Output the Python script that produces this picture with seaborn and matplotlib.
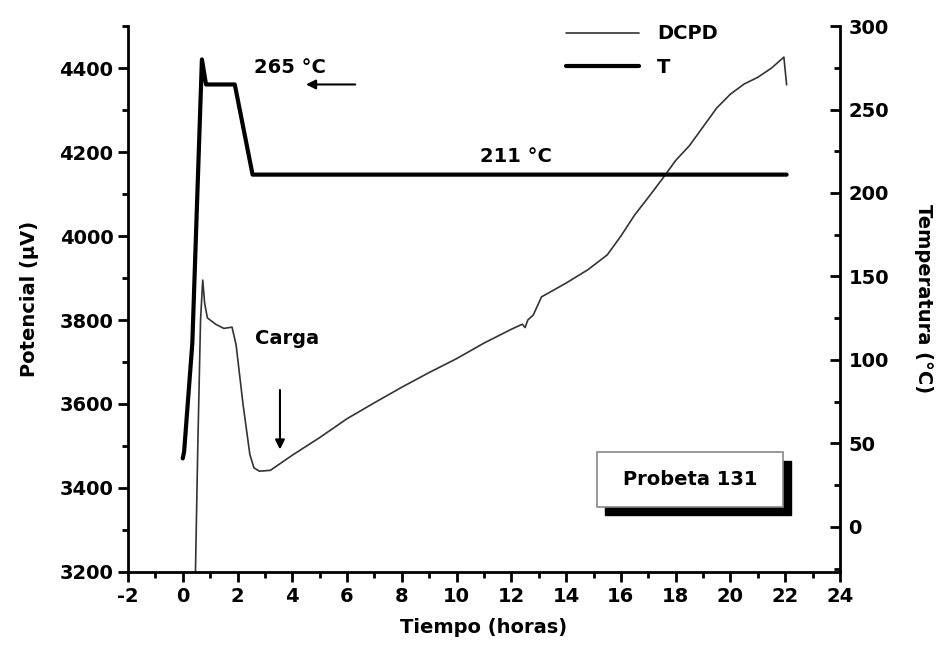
import matplotlib
matplotlib.use("Agg")
import matplotlib.pyplot as plt
from matplotlib.patches import Rectangle
from matplotlib.ticker import MultipleLocator
import pandas as pd
import seaborn as sns

# DCPD potential (µV) vs time (h)
dcpd_t = [0.45, 0.55, 0.65, 0.73, 0.8, 0.9, 1.2, 1.5, 1.8, 1.95, 2.2, 2.45, 2.6, 2.8, 3.2,
          3.6, 4.0, 5.0, 6.0, 7.0, 8.0, 9.0, 10.0, 11.0, 12.0, 12.4, 12.5, 12.6, 12.8, 13.1,
          14.0, 14.8, 15.5, 16.0, 16.5, 17.0, 17.5, 18.0, 18.5, 19.0, 19.5, 20.0, 20.5, 21.0,
          21.5, 21.95, 22.05]
dcpd_v = [3150, 3500, 3800, 3895, 3840, 3805, 3790, 3780, 3783, 3740, 3600, 3480, 3448, 3440,
          3442, 3460, 3478, 3520, 3565, 3603, 3640, 3675, 3708, 3745, 3778, 3790, 3782, 3800,
          3812, 3855, 3888, 3920, 3955, 4000, 4050, 4092, 4135, 4180, 4215, 4260, 4305, 4338,
          4362, 4378, 4400, 4426, 4360]

# temperature (°C) vs time (h)
temp_t = [0.0, 0.05, 0.35, 0.5, 0.7, 0.85, 1.9, 2.55, 5.0, 10.0, 15.0, 20.0, 22.05]
temp_c = [41, 45, 110, 183, 280, 265, 265, 211, 211, 211, 211, 211, 211]

sns.set_style("ticks")
plt.rcParams["font.family"] = ["DejaVu Sans"]
plt.rcParams["font.weight"] = "bold"
plt.rcParams["font.size"] = 14
plt.rcParams["axes.unicode_minus"] = False
for k in ("text.color", "axes.labelcolor", "xtick.color", "ytick.color", "axes.edgecolor"):
    plt.rcParams[k] = "black"

fig = plt.figure(figsize=(9.43, 6.51), dpi=100)
ax = fig.add_axes([0.1357, 0.1214, 0.7551, 0.8386])
ax2 = ax.twinx()

df_dcpd = pd.DataFrame({"t": dcpd_t, "v": dcpd_v})
df_temp = pd.DataFrame({"t": temp_t, "c": temp_c})
sns.lineplot(data=df_dcpd, x="t", y="v", ax=ax, color="#333333", lw=1.2, sort=False, label="DCPD", legend=False)
sns.lineplot(data=df_temp, x="t", y="c", ax=ax2, color="black", lw=3, sort=False, label="T", legend=False)

ax.set_xlim(-2, 24)
ax.set_ylim(3200, 4500)
ax2.set_ylim(-27, 300)
ax.xaxis.set_major_locator(MultipleLocator(2))
ax.xaxis.set_minor_locator(MultipleLocator(1))
ax.yaxis.set_major_locator(MultipleLocator(200))
ax.yaxis.set_minor_locator(MultipleLocator(100))
ax2.yaxis.set_major_locator(MultipleLocator(50))
ax2.yaxis.set_minor_locator(MultipleLocator(25))

for a in (ax, ax2):
    a.spines["top"].set_visible(False)
    for s in a.spines.values():
        s.set_linewidth(2)
        s.set_color("black")
ax.spines["right"].set_visible(False)
ax2.spines["left"].set_visible(False)
ax2.spines["bottom"].set_visible(False)

ax.tick_params(which="major", direction="out", length=7, width=2, labelsize=14)
ax.tick_params(which="minor", direction="out", length=4, width=2)
ax2.tick_params(which="major", direction="in", length=7, width=2, labelsize=14, pad=6)
ax2.tick_params(which="minor", direction="in", length=4, width=2)

ax.set_xlabel("Tiempo (horas)", fontsize=14, fontweight="bold", labelpad=9)
ax.set_ylabel("Potencial (µV)", fontsize=14, fontweight="bold", labelpad=15)
ax2.set_ylabel("Temperatura (°C)", fontsize=14, fontweight="bold", rotation=-90, labelpad=32)

# annotations
ax2.text(3.9, 275, "265 °C", ha="center", va="center", fontsize=14, fontweight="bold")
ax2.annotate("", xy=(4.4, 265), xytext=(6.4, 265),
             arrowprops=dict(arrowstyle="-|>", color="black", lw=1.5, mutation_scale=14))
ax2.text(12.15, 222, "211 °C", ha="center", va="center", fontsize=14, fontweight="bold")
ax.text(3.8, 3757, "Carga", ha="center", va="center", fontsize=14, fontweight="bold")
ax.annotate("", xy=(3.55, 3485), xytext=(3.55, 3640),
            arrowprops=dict(arrowstyle="-|>", color="black", lw=1.5, mutation_scale=14))

# legend
h1, l1 = ax.get_legend_handles_labels()
h2, l2 = ax2.get_legend_handles_labels()
ax2.legend(h1 + h2, l1 + l2, loc="upper left", bbox_to_anchor=(0.59, 1.035), frameon=False,
           handlelength=3.8, labelspacing=0.75, handletextpad=0.9,
           prop={"weight": "bold", "size": 14})

# "Probeta 131" box with shadow
bx, by, bw, bh = 0.659, 0.119, 0.261, 0.10
ax2.add_patch(Rectangle((bx + 0.011, by - 0.015), bw, bh, transform=ax2.transAxes,
                        facecolor="black", edgecolor="black", zorder=5))
ax2.add_patch(Rectangle((bx, by), bw, bh, transform=ax2.transAxes,
                        facecolor="white", edgecolor="#888888", lw=1.2, zorder=6))
ax2.text(bx + bw / 2, by + bh / 2, "Probeta 131", transform=ax2.transAxes, ha="center",
         va="center", fontsize=14, fontweight="bold", zorder=7)

fig.savefig("out.png", dpi=100)
